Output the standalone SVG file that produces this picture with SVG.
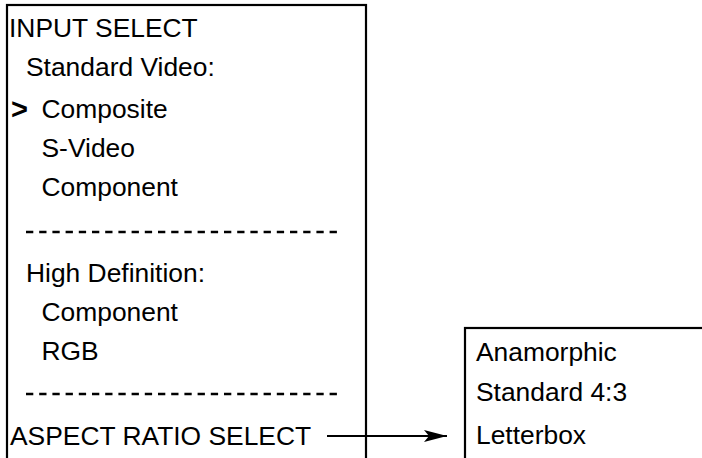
<svg xmlns="http://www.w3.org/2000/svg" width="702" height="458" viewBox="0 0 702 458">
<defs>
<style>
text { font-family: "Liberation Sans", Arial, sans-serif; font-size: 26.4px; fill: #000; }
.box { fill: #fff; stroke: #000; stroke-width: 2.2; }
.sep { stroke: #000; stroke-width: 2.6; stroke-dasharray: 7.3 5.9; fill: none; }
.conn { stroke: #000; stroke-width: 2; fill: none; }
.cursor { font-weight: bold; font-size: 29px; }
</style>
<marker id="arrow" markerWidth="24" markerHeight="14" refX="23" refY="7" orient="auto" markerUnits="userSpaceOnUse">
<path d="M0,1 L23,7 L0,13 L5,7 Z" fill="#000"/>
</marker>
</defs>
<rect width="702" height="458" fill="#fff"/>
<g id="input-select-menu">
<rect class="box" x="7" y="5" width="359" height="470"/>
<text x="9" y="37">INPUT SELECT</text>
<text x="26" y="76">Standard Video:</text>
<text class="cursor" x="11" y="119">&gt;</text>
<text x="41.5" y="118">Composite</text>
<text x="41.5" y="157">S-Video</text>
<text x="41.5" y="196">Component</text>
<line class="sep" x1="26" y1="232" x2="338" y2="232"/>
<text x="26" y="282">High Definition:</text>
<text x="41.5" y="321">Component</text>
<text x="41.5" y="360">RGB</text>
<line class="sep" x1="26" y1="394" x2="338" y2="394"/>
<text x="10" y="445">ASPECT RATIO SELECT</text>
</g>
<g id="aspect-ratio-menu">
<rect class="box" x="465" y="328" width="260" height="150"/>
<text x="476" y="361">Anamorphic</text>
<text x="476" y="401">Standard 4:3</text>
<text x="476" y="444">Letterbox</text>
</g>
<g id="connectors">
<line class="conn" x1="327" y1="436" x2="447" y2="436" marker-end="url(#arrow)"/>
</g>
</svg>
